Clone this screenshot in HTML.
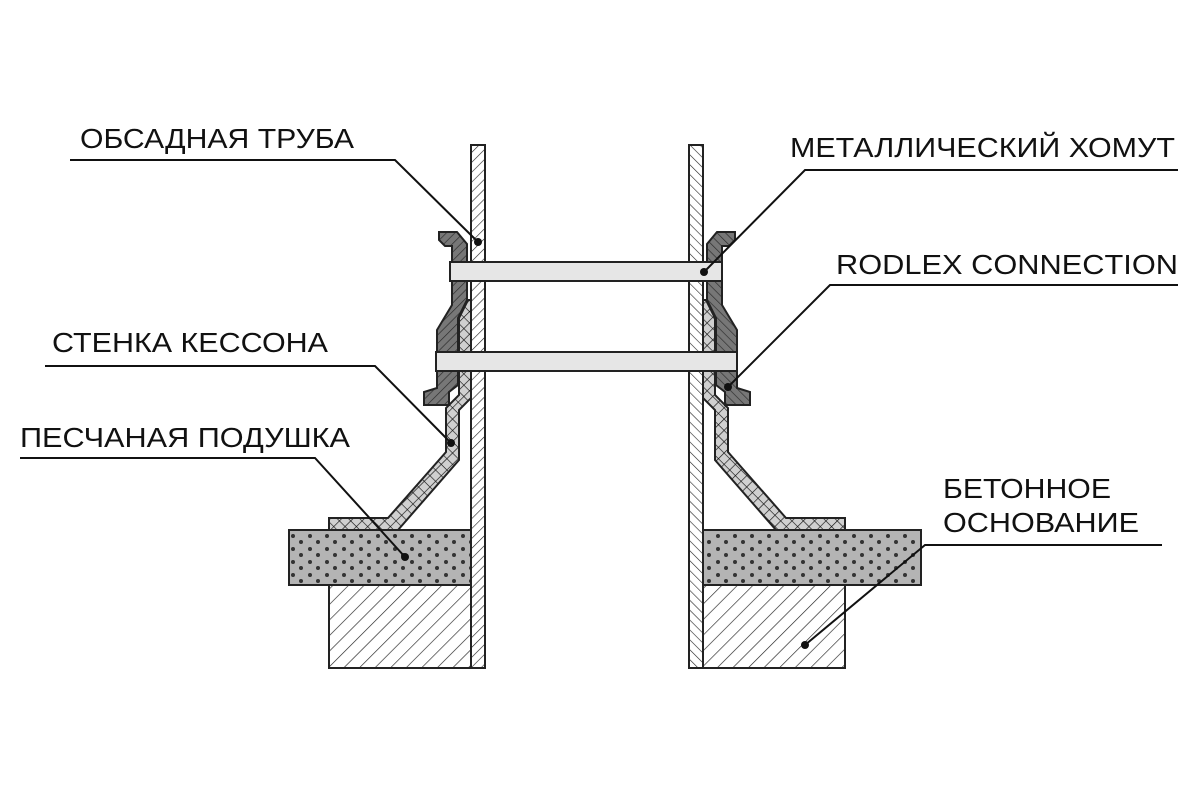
<!DOCTYPE html>
<html><head><meta charset="utf-8"><style>html,body{margin:0;padding:0;background:#fff}svg{display:block}</style></head>
<body>
<svg width="1200" height="800" viewBox="0 0 1200 800" xmlns="http://www.w3.org/2000/svg">
<defs>
<pattern id="hatch" width="11" height="11" patternUnits="userSpaceOnUse" patternTransform="rotate(45)">
<rect width="11" height="11" fill="#fff"/><line x1="0" y1="0" x2="0" y2="11" stroke="#222" stroke-width="1.3"/></pattern>
<pattern id="phatch" width="7" height="7" patternUnits="userSpaceOnUse" patternTransform="rotate(45)">
<rect width="7" height="7" fill="#fff"/><line x1="0" y1="0" x2="0" y2="7" stroke="#222" stroke-width="1.2"/></pattern>
<pattern id="phatchR" width="7" height="7" patternUnits="userSpaceOnUse" patternTransform="rotate(-45)">
<rect width="7" height="7" fill="#fff"/><line x1="0" y1="0" x2="0" y2="7" stroke="#222" stroke-width="1.2"/></pattern>
<pattern id="cross" width="8" height="8" patternUnits="userSpaceOnUse" patternTransform="rotate(45)">
<rect width="8" height="8" fill="#d0d0d0"/><path d="M0 0V8M0 0H8" stroke="#111" stroke-width="1.3"/></pattern>
<pattern id="dark" width="6" height="6" patternUnits="userSpaceOnUse" patternTransform="rotate(45)">
<rect width="6" height="6" fill="#777"/><line x1="0" y1="0" x2="0" y2="6" stroke="#2a2a2a" stroke-width="1.3"/></pattern>
<pattern id="darkR" width="6" height="6" patternUnits="userSpaceOnUse" patternTransform="rotate(-45)">
<rect width="6" height="6" fill="#777"/><line x1="0" y1="0" x2="0" y2="6" stroke="#2a2a2a" stroke-width="1.3"/></pattern>
<pattern id="dots" width="17" height="13" patternUnits="userSpaceOnUse">
<rect width="17" height="13" fill="#b4b4b4"/><circle cx="4" cy="3" r="2" fill="#333"/><circle cx="12" cy="9" r="2" fill="#333"/></pattern>
</defs>

<rect x="289" y="530" width="182" height="55" fill="url(#dots)" stroke="#222" stroke-width="2"/>
<rect x="703" y="530" width="218" height="55" fill="url(#dots)" stroke="#222" stroke-width="2"/>
<rect x="329" y="585" width="142" height="83" fill="url(#hatch)" stroke="#222" stroke-width="2"/>
<rect x="703" y="585" width="142" height="83" fill="url(#hatch)" stroke="#222" stroke-width="2"/>

<polygon points="329,518 388,518 446,452 446,408 459,395 459,318 468,300 471,300 471,398 459,410 459,460 398,530 329,530" fill="url(#cross)" stroke="#222" stroke-width="2"/>
<polygon points="845,518 786,518 728,452 728,408 715,395 715,318 706,300 703,300 703,398 715,410 715,460 776,530 845,530" fill="url(#cross)" stroke="#222" stroke-width="2"/>

<polygon points="439,232 457,232 467,244 467,300 458,318 458,385 449,392 449,405 424,405 424,392 437,388 437,330 452,305 452,246 445,246 439,240" fill="url(#dark)" stroke="#222" stroke-width="2"/>
<polygon points="735,232 717,232 707,244 707,300 716,318 716,385 725,392 725,405 750,405 750,392 737,388 737,330 722,305 722,246 729,246 735,240" fill="url(#darkR)" stroke="#222" stroke-width="2"/>

<rect x="471" y="145" width="14" height="523" fill="url(#phatch)" stroke="#222" stroke-width="2"/>
<rect x="689" y="145" width="14" height="523" fill="url(#phatchR)" stroke="#222" stroke-width="2"/>

<rect x="450" y="262" width="272" height="19" fill="#e6e6e6" stroke="#222" stroke-width="2"/>
<rect x="436" y="352" width="301" height="19" fill="#e6e6e6" stroke="#222" stroke-width="2"/>

<g stroke="#111" stroke-width="2" fill="none">
<polyline points="70,160 395,160 478,242"/>
<polyline points="45,366 375,366 451,443"/>
<polyline points="20,458 315,458 405,557"/>
<polyline points="1178,170 805,170 704,272"/>
<polyline points="1178,285 830,285 728,387"/>
<polyline points="1162,545 925,545 805,645"/>
</g>
<g fill="#111">
<circle cx="478" cy="242" r="4"/><circle cx="451" cy="443" r="4"/><circle cx="405" cy="557" r="4"/>
<circle cx="704" cy="272" r="4"/><circle cx="728" cy="387" r="4"/><circle cx="805" cy="645" r="4"/>
</g>

<g font-family="Liberation Sans, sans-serif" font-size="28" fill="#111">
<text x="80" y="148" textLength="274" lengthAdjust="spacingAndGlyphs">ОБСАДНАЯ ТРУБА</text>
<text x="52" y="352" textLength="276" lengthAdjust="spacingAndGlyphs">СТЕНКА КЕССОНА</text>
<text x="20" y="447" textLength="330" lengthAdjust="spacingAndGlyphs">ПЕСЧАНАЯ ПОДУШКА</text>
<text x="790" y="157" textLength="385" lengthAdjust="spacingAndGlyphs">МЕТАЛЛИЧЕСКИЙ ХОМУТ</text>
<text x="836" y="274" textLength="342" lengthAdjust="spacingAndGlyphs">RODLEX CONNECTION</text>
<text x="943" y="498" textLength="168" lengthAdjust="spacingAndGlyphs">БЕТОННОЕ</text>
<text x="943" y="532" textLength="196" lengthAdjust="spacingAndGlyphs">ОСНОВАНИЕ</text>
</g>
</svg>
</body></html>
